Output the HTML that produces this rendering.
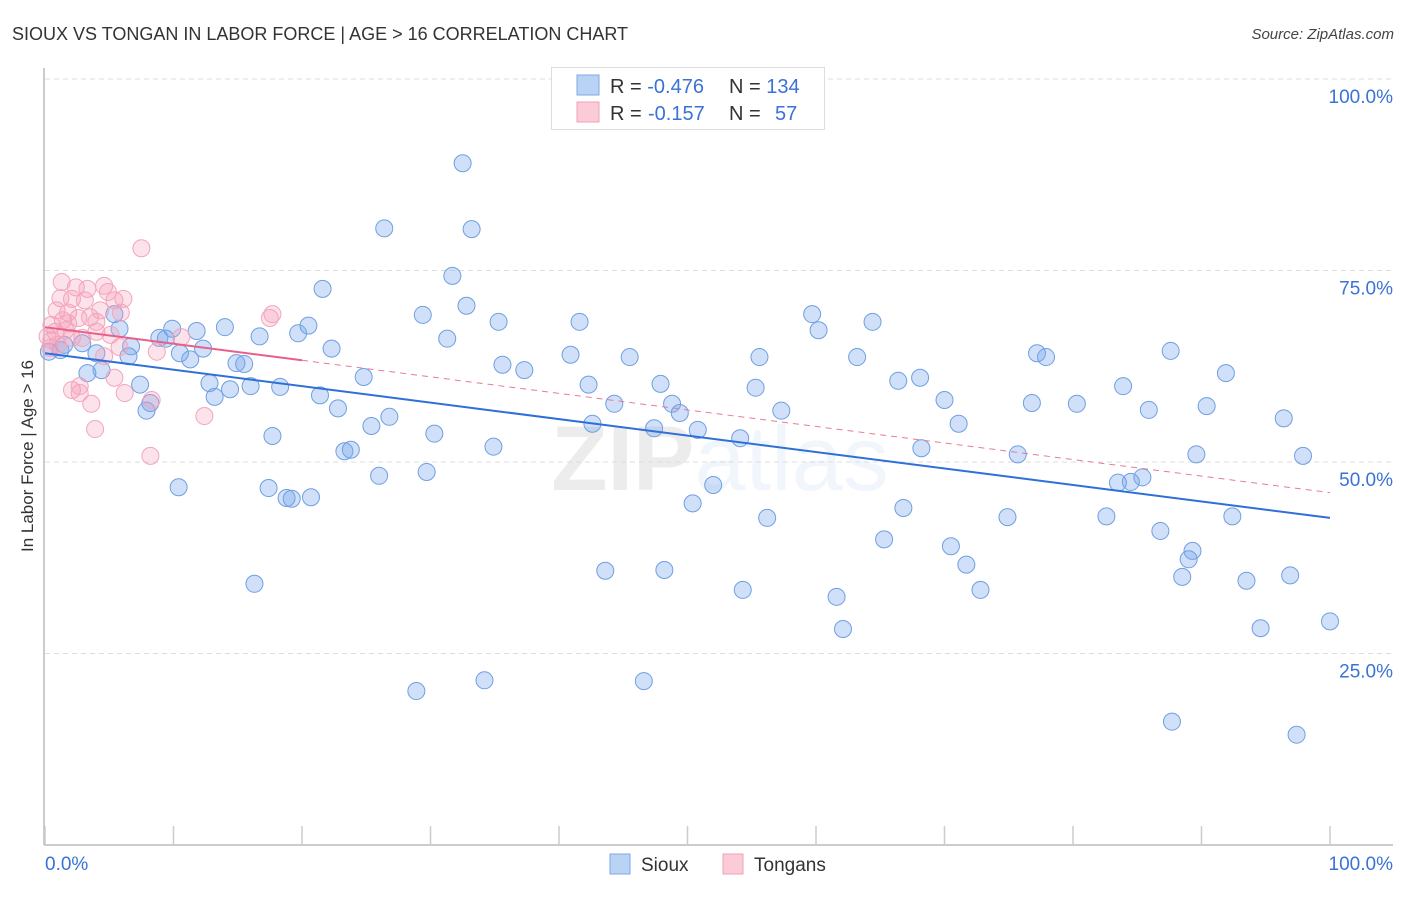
<!DOCTYPE html>
<html><head><meta charset="utf-8"><style>
body{margin:0;background:#fff;font-family:"Liberation Sans",sans-serif}
svg text{font-family:"Liberation Sans",sans-serif}
</style></head><body>
<svg id="chart" width="1406" height="892" xmlns="http://www.w3.org/2000/svg">
<text x="12" y="40" font-size="18" fill="#333">SIOUX VS TONGAN IN LABOR FORCE | AGE &gt; 16 CORRELATION CHART</text>
<text x="1394" y="39" font-size="15" fill="#444" text-anchor="end" font-style="italic">Source: ZipAtlas.com</text>
<text x="720" y="490" font-size="92" text-anchor="middle" fill="#000" opacity="0.07" font-family="Liberation Serif" font-weight="bold">ZIP<tspan font-family="Liberation Sans" font-weight="normal" fill="#3a78d8" opacity="0.9">atlas</tspan></text>
<g id="grid"></g>
<g id="axes"></g>
<g id="pts"></g>
<g id="lines"></g>
<text transform="translate(33,456) rotate(-90)" font-size="17" fill="#333" text-anchor="middle">In Labor Force | Age &gt; 16</text>
<g>
<rect x="551.5" y="67.5" width="273" height="62" fill="#fff" stroke="#ddd"/>
<rect x="577" y="75" width="22" height="20" fill="#b9d3f5" stroke="#7ea8e6"/>
<rect x="577" y="102" width="22" height="20" fill="#fbcbd8" stroke="#f0a0b8"/>
<text x="610" y="93" font-size="20" fill="#333">R = <tspan fill="#3a72d6">-0.476</tspan><tspan x="729">N = </tspan><tspan fill="#3a72d6">134</tspan></text>
<text x="610" y="120" font-size="20" fill="#333">R = <tspan fill="#3a72d6" x="648">-0.157</tspan><tspan x="729">N = </tspan><tspan fill="#3a72d6" x="775">57</tspan></text>
</g>
<g>
<rect x="610" y="854" width="20" height="20" fill="#b9d3f5" stroke="#7ea8e6"/>
<text x="641" y="871" font-size="19" fill="#333">Sioux</text>
<rect x="723" y="854" width="20" height="20" fill="#fbcbd8" stroke="#f0a0b8"/>
<text x="754" y="871" font-size="19" fill="#333">Tongans</text>
</g>
</svg>
<script>
const yTicks=[25,50,75,100];
const yTickLabels=["25.0%","50.0%","75.0%","100.0%"];
const xTicks=[0,10,20,30,40,50,60,70,80,90,100];
const siouxX=[32.5,26.4,33.2,31.7,21.6,32.8,29.4,35.3,41.6,59.7,64.4,60.2,31.3,16.7,14.0,11.8,9.9,8.9,9.4,5.8,5.4,6.7,6.5,4.0,2.9,1.2,0.3,1.5,4.4,3.3,7.4,8.2,7.9,11.3,10.5,12.3,14.9,15.5,12.8,14.4,16.0,18.3,13.2,22.3,19.7,20.5,24.8,21.4,22.8,25.4,26.8,30.3,23.3,23.8,17.7,34.9,26.0,29.7,35.6,37.3,40.9,45.5,42.3,44.3,47.9,48.8,49.4,47.4,50.8,54.1,42.6,55.6,55.3,57.3,63.2,66.4,68.1,70.0,71.1,68.2,75.7,77.2,77.9,76.8,80.3,83.9,85.9,87.6,90.4,91.9,96.4,97.9,89.6,85.4,84.5,83.5,10.4,17.4,18.8,19.2,20.7,52.0,50.4,56.2,66.8,74.9,82.6,86.8,92.4,65.3,70.5,71.7,89.3,89.0,88.5,93.5,96.9,100.0,94.6,72.8,61.6,62.1,54.3,48.2,43.6,16.3,28.9,34.2,46.6,87.7,97.4];
const siouxY=[89.0,80.5,80.4,74.3,72.6,70.4,69.2,68.3,68.3,69.3,68.3,67.2,66.1,66.4,67.6,67.1,67.4,66.2,66.1,67.4,69.3,65.1,63.8,64.2,65.5,64.6,64.4,65.3,62.0,61.6,60.1,57.7,56.7,63.4,64.2,64.8,62.9,62.8,60.3,59.5,59.9,59.8,58.5,64.8,66.8,67.8,61.1,58.7,57.0,54.7,55.9,53.7,51.4,51.6,53.4,52.0,48.2,48.7,62.7,62.0,64.0,63.7,60.1,57.6,60.2,57.6,56.4,54.4,54.2,53.1,55.0,63.7,59.7,56.7,63.7,60.6,61.0,58.1,55.0,51.8,51.0,64.2,63.7,57.7,57.6,59.9,56.8,64.5,57.3,61.6,55.7,50.8,51.0,48.0,47.4,47.3,46.7,46.6,45.3,45.2,45.4,47.0,44.6,42.7,44.0,42.8,42.9,41.0,42.9,39.9,39.0,36.6,38.4,37.3,35.0,34.5,35.2,29.2,28.3,33.3,32.4,28.2,33.3,35.9,35.8,34.1,20.1,21.5,21.4,16.1,14.4];
const tonganX=[7.5,1.3,2.4,3.3,4.6,4.9,1.2,2.1,3.1,5.4,6.1,17.7,17.5,0.9,1.8,2.6,3.5,4.0,5.9,4.3,1.4,0.5,0.8,1.6,0.2,0.5,1.0,0.4,2.1,1.8,4.0,5.1,2.9,5.8,4.6,8.7,10.6,5.4,2.1,2.7,2.7,6.2,8.3,3.6,3.9,12.4,8.2];
const tonganY=[77.9,73.5,72.8,72.6,73.0,72.2,71.4,71.3,71.1,71.1,71.3,69.3,68.8,69.8,69.5,68.8,68.9,68.3,69.5,69.8,68.5,67.9,67.0,67.2,66.4,65.9,65.3,64.9,66.2,68.1,67.0,66.6,66.2,65.0,63.8,64.4,66.3,61.0,59.4,59.0,59.9,59.0,58.1,57.6,54.3,56.0,50.8];
const siouxTrend=[64.2,42.7];
const tonganTrend=[67.6,46.0];
const tonganSolidEnd=20;

const NS="http://www.w3.org/2000/svg";
const sx=v=>45+v*12.85;
const sy=v=>845-v*7.66;
function mk(tag,attrs,parent){const e=document.createElementNS(NS,tag);for(const k in attrs)e.setAttribute(k,attrs[k]);document.getElementById(parent).appendChild(e);return e;}
yTicks.forEach((t,i)=>{
  const g=mk('line',{x1:45,x2:1393,y1:sy(t),y2:sy(t),stroke:'#ddd','stroke-dasharray':'5,4'},'grid');
  
  
  const l=mk('text',{x:1393,y:sy(t)+24,'font-size':19,fill:'#3a72d6','text-anchor':'end'},'grid');
  l.textContent=yTickLabels[i];
  
  
});
const ax=mk('line',{x1:44,x2:1393,y1:845,y2:845,stroke:'#bbb','stroke-width':1.5},'axes');


const ay=mk('line',{x1:44,x2:44,y1:68,y2:845,stroke:'#bbb','stroke-width':1.5},'axes');


xTicks.forEach(t=>{
  const tk=mk('line',{x1:sx(t),x2:sx(t),y1:826,y2:845,stroke:'#ccc','stroke-width':1.5},'axes');
  
  
});
const xl0=mk('text',{x:45,y:870,'font-size':19,fill:'#3a72d6'},'axes');xl0.textContent='0.0%';


const xl1=mk('text',{x:1393,y:870,'font-size':19,fill:'#3a72d6','text-anchor':'end'},'axes');xl1.textContent='100.0%';


siouxX.forEach((x,i)=>{
  const c=mk('circle',{cx:sx(x),cy:sy(siouxY[i]),r:8.5,fill:'rgba(120,165,235,0.35)',stroke:'#6f9fe2','stroke-width':1},'pts');
  
  
});
tonganX.forEach((x,i)=>{
  const c=mk('circle',{cx:sx(x),cy:sy(tonganY[i]),r:8.5,fill:'rgba(245,160,185,0.3)',stroke:'#f3a5bd','stroke-width':1},'pts');
  
  
});
const bl=mk('line',{x1:sx(0),y1:sy(siouxTrend[0]),x2:sx(100),y2:sy(siouxTrend[1]),stroke:'#2f6fd8','stroke-width':2},'lines');


const tAt=x=>tonganTrend[0]+(tonganTrend[1]-tonganTrend[0])*x/100;
const pd=mk('line',{x1:sx(tonganSolidEnd),y1:sy(tAt(tonganSolidEnd)),x2:sx(100),y2:sy(tonganTrend[1]),stroke:'#e8799c','stroke-width':1,'stroke-dasharray':'6,5'},'lines');


const ps=mk('line',{x1:sx(0),y1:sy(tonganTrend[0]),x2:sx(tonganSolidEnd),y2:sy(tAt(tonganSolidEnd)),stroke:'#e8608a','stroke-width':2},'lines');


</script>
</body></html>
